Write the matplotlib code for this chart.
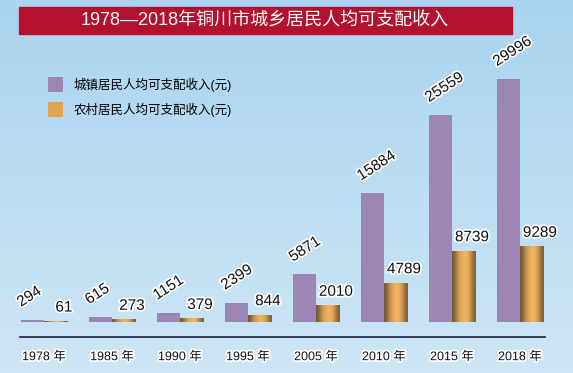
import numpy as np
import matplotlib.pyplot as plt
import matplotlib.patheffects as pe
from matplotlib.patches import Rectangle
from matplotlib.lines import Line2D

plt.rcParams['font.family'] = ['Liberation Sans', 'Noto Sans CJK SC', 'DejaVu Sans']

# Données
years = ['1978 年', '1985 年', '1990 年', '1995 年', '2005 年', '2010 年', '2015 年', '2018 年']
urban = [294, 615, 1151, 2399, 5871, 15884, 25559, 29996]
rural = [61, 273, 379, 844, 2010, 4789, 8739, 9289]
title = '1978—2018年铜川市城乡居民人均可支配收入'
label_urban = '城镇居民人均可支配收入(元)'
label_rural = '农村居民人均可支配收入(元)'

W, H = 573, 373
fig = plt.figure(figsize=(W / 100, H / 100), dpi=100)

# fond dégradé bleu clair
bg = fig.add_axes([0, 0, 1, 1], zorder=-10)
grad = np.linspace(0, 1, 200)[:, None]
top = np.array([170, 212, 240]) / 255
bot = np.array([205, 230, 246]) / 255
img = top[None, None, :] * (1 - grad[..., None]) + bot[None, None, :] * grad[..., None]
bg.imshow(img, aspect='auto', extent=(0, 1, 0, 1))
bg.set_axis_off()

# bandeau du titre
fig.add_artist(Rectangle((19 / W, (H - 34) / H), 493 / W, 27 / H,
                         transform=fig.transFigure, color='#b3112e', zorder=1))
fig.text(265 / W, (H - 21) / H, title, color='white', fontsize=13,
         ha='center', va='center', zorder=2)

ax = fig.add_axes([10 / W, 51 / H, 544 / W, 322 / H])
ax.patch.set_alpha(0)
x = np.arange(len(years))
w = 0.34

bars_u = ax.bar(x - w / 2, urban, w, color='#9b86b5', label=label_urban, zorder=2)
bars_r = ax.bar(x + w / 2, rural, w, color='#e3a352', label=label_rural, zorder=2)

# effet cylindre sur les barres rurales
cyl = np.array([[0.45, 0.35, 0.2], [0.65, 0.5, 0.3], [0.85, 0.62, 0.33],
                [0.93, 0.68, 0.36], [0.95, 0.71, 0.38], [0.9, 0.66, 0.34],
                [0.72, 0.52, 0.28], [0.5, 0.38, 0.22]])[None, :, :]
for b in bars_r:
    ax.imshow(cyl, aspect='auto', interpolation='bicubic', zorder=3,
              extent=(b.get_x(), b.get_x() + b.get_width(), 0, b.get_height()))

stroke = [pe.withStroke(linewidth=2.5, foreground='white')]
for b, v in zip(bars_u, urban):
    ax.annotate(str(v), (b.get_x(), v), xytext=(0, 9), textcoords='offset points',
                rotation=33, rotation_mode='anchor', ha='left', va='baseline',
                fontsize=11, color='#111111', path_effects=stroke, zorder=4)
for b, v in zip(bars_r, rural):
    ax.annotate(str(v), (b.get_x() + b.get_width() / 2, v), xytext=(6, 5),
                textcoords='offset points', ha='center', va='bottom',
                fontsize=11, color='#111111', path_effects=stroke, zorder=4)

ax.set_xlim(-0.5, 7.5)
ax.set_ylim(0, 39750)
ax.set_yticks([])
ax.set_xticks(x)
ax.set_xticklabels(years, fontsize=9, color='#111111')
for t in ax.get_xticklabels():
    t.set_path_effects(stroke)
ax.tick_params(axis='x', length=0, pad=21)
for s in ax.spines.values():
    s.set_visible(False)

# ligne de base
fig.add_artist(Line2D([20 / W, 545 / W], [36 / H, 36 / H], color='#1a1f3a', lw=1.2))

ax.legend(loc='upper left', bbox_to_anchor=(37 / W, (H - 66) / H),
          bbox_transform=fig.transFigure, frameon=False, fontsize=9,
          handlelength=1.2, handleheight=1.45, labelspacing=0.8, handletextpad=0.8)

fig.savefig('out.png', dpi=100)
